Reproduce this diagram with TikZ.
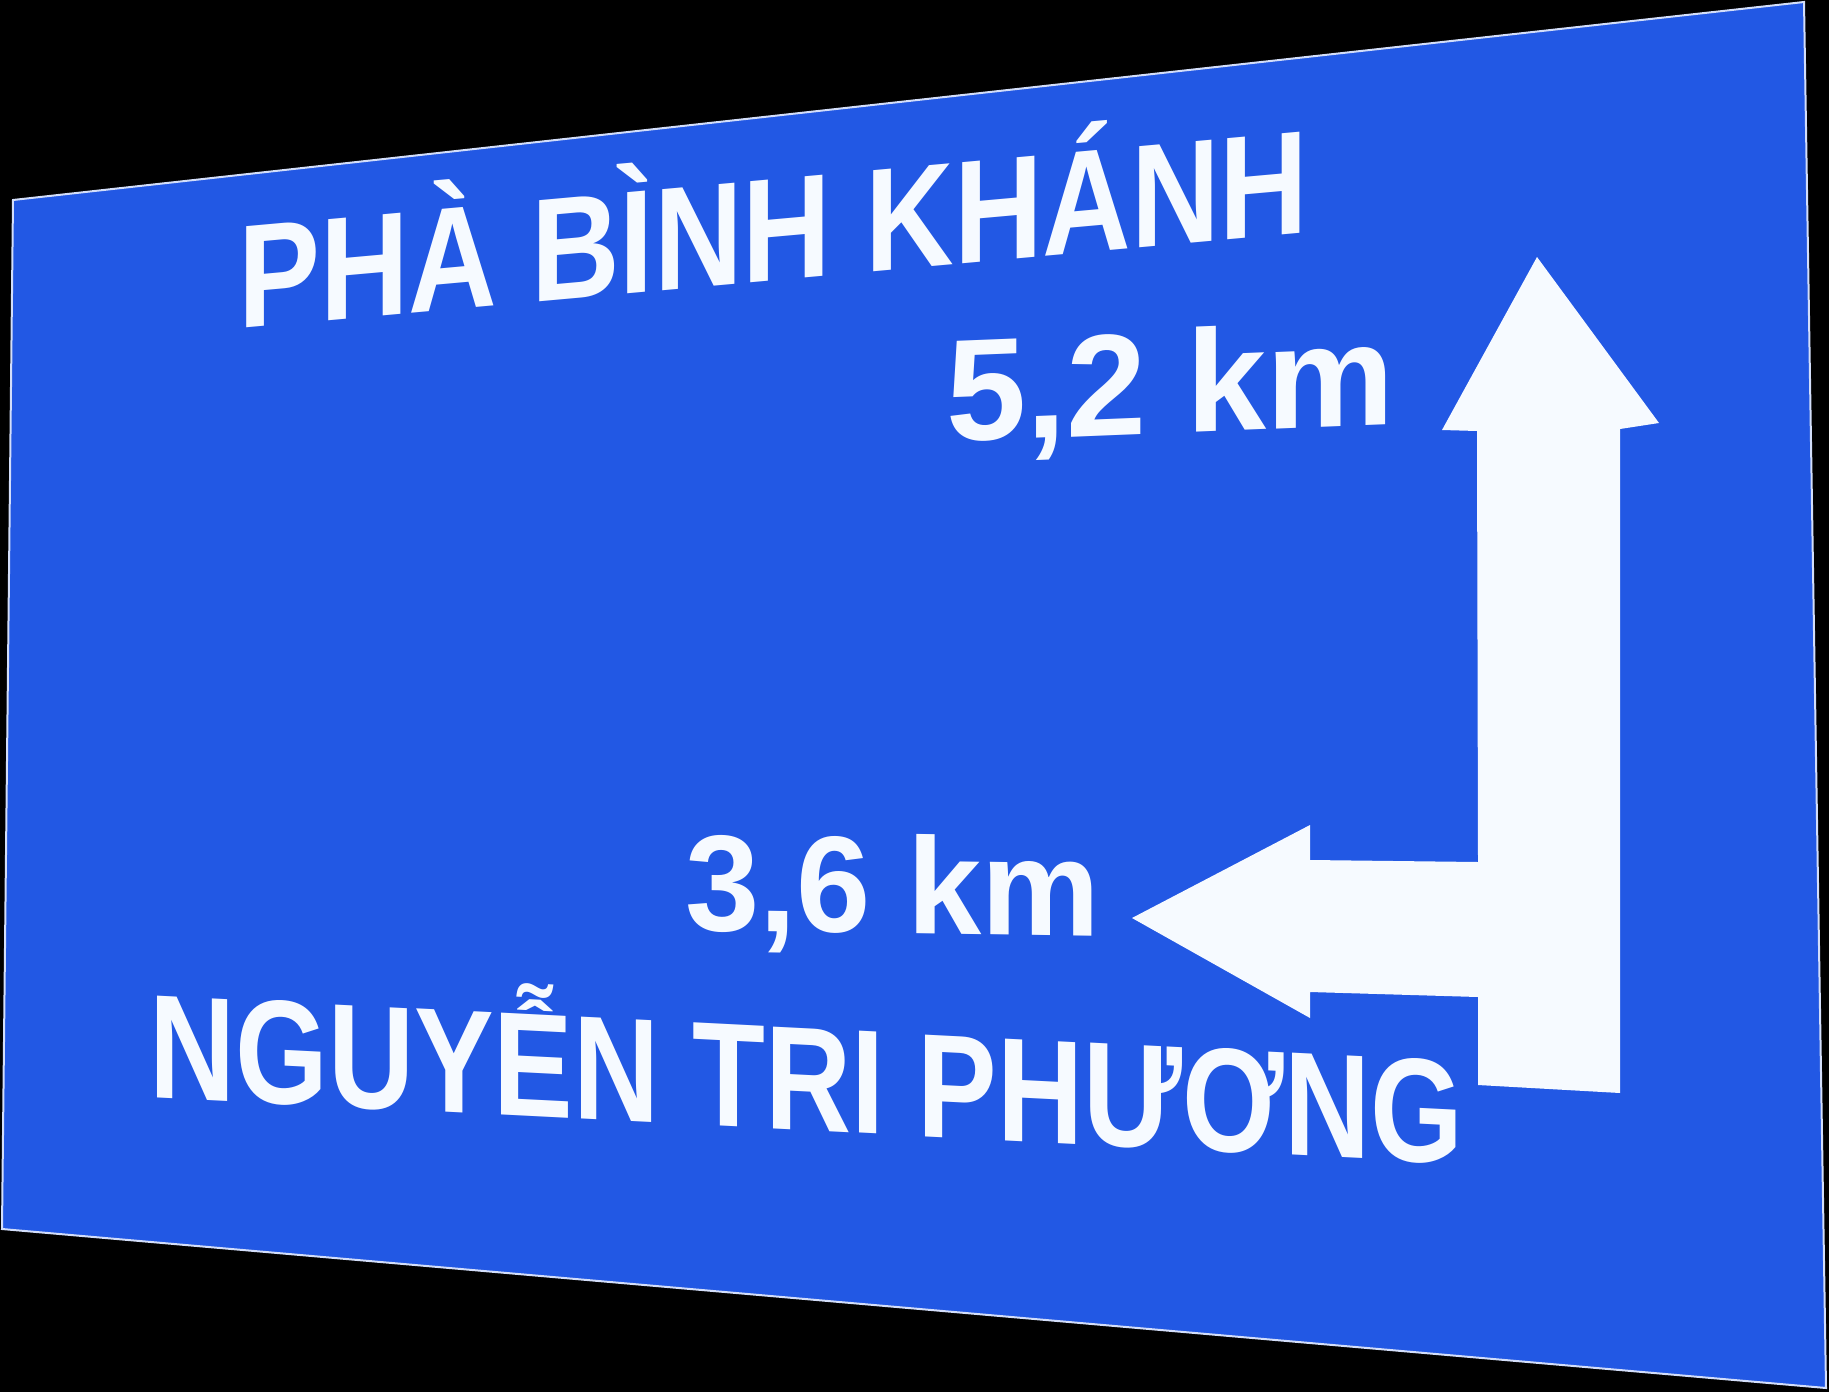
\documentclass[tikz,border=0pt]{standalone}
\usepackage{fontspec}
\setmainfont{Liberation Sans}
\usetikzlibrary{positioning}
\definecolor{signblue}{RGB}{34,88,228}
\definecolor{signwhite}{RGB}{246,250,255}

\begin{document}
\begin{tikzpicture}[x=1pt, y=-1pt,
                    sign_text/.style={text=signwhite, inner sep=0pt, anchor=base west},
                    arrow_shape/.style={fill=signwhite}]
   \useasboundingbox (0,0) rectangle (1829,1392);
   \fill[black] (0,0) rectangle (1829,1392);

   % Define the plate corners
   \coordinate (plate_nw) at (13,200);
   \coordinate (plate_ne) at (1804,2);
   \coordinate (plate_se) at (1826,1388);
   \coordinate (plate_sw) at (2,1229);
   \filldraw[fill=signblue, draw=white!80!signblue, line width=2pt]
     (plate_nw) -- (plate_ne) -- (plate_se) -- (plate_sw) -- cycle;

   % Define the turn arrow
   \fill[arrow_shape] (1537,257) -- (1659,423) -- (1620,429) -- (1620,1093)
     -- (1478,1085) -- (1478,997) -- (1310,992) -- (1310,1018) -- (1132,918)
     -- (1310,825) -- (1310,860) -- (1478,862) -- (1477,431) -- (1442,430) -- cycle;

   % Define the texts
   \node[sign_text, font=\fontsize{147}{150}\selectfont\bfseries, cm={0.835,0.075,0,1,(0,0)}]
     (pha_binh_khanh) at (238,329) {PHÀ BÌNH KHÁNH};
   \node[sign_text, font=\fontsize{145}{150}\selectfont\bfseries, cm={0.993,0.040,0,1,(0,0)}]
     (dist_up) at (946,442) {5,2 km};
   \node[sign_text, font=\fontsize{137}{140}\selectfont\bfseries, cm={0.974,-0.015,0,1,(0,0)}]
     (dist_left) at (685,930) {3,6 km};
   \node[sign_text, font=\fontsize{148}{150}\selectfont\bfseries, cm={0.806,-0.041,0,1,(0,0)}]
     (nguyen_tri_phuong) at (149,1097) {NGUYỄN TRI PHƯƠNG};
\end{tikzpicture}
\end{document}
